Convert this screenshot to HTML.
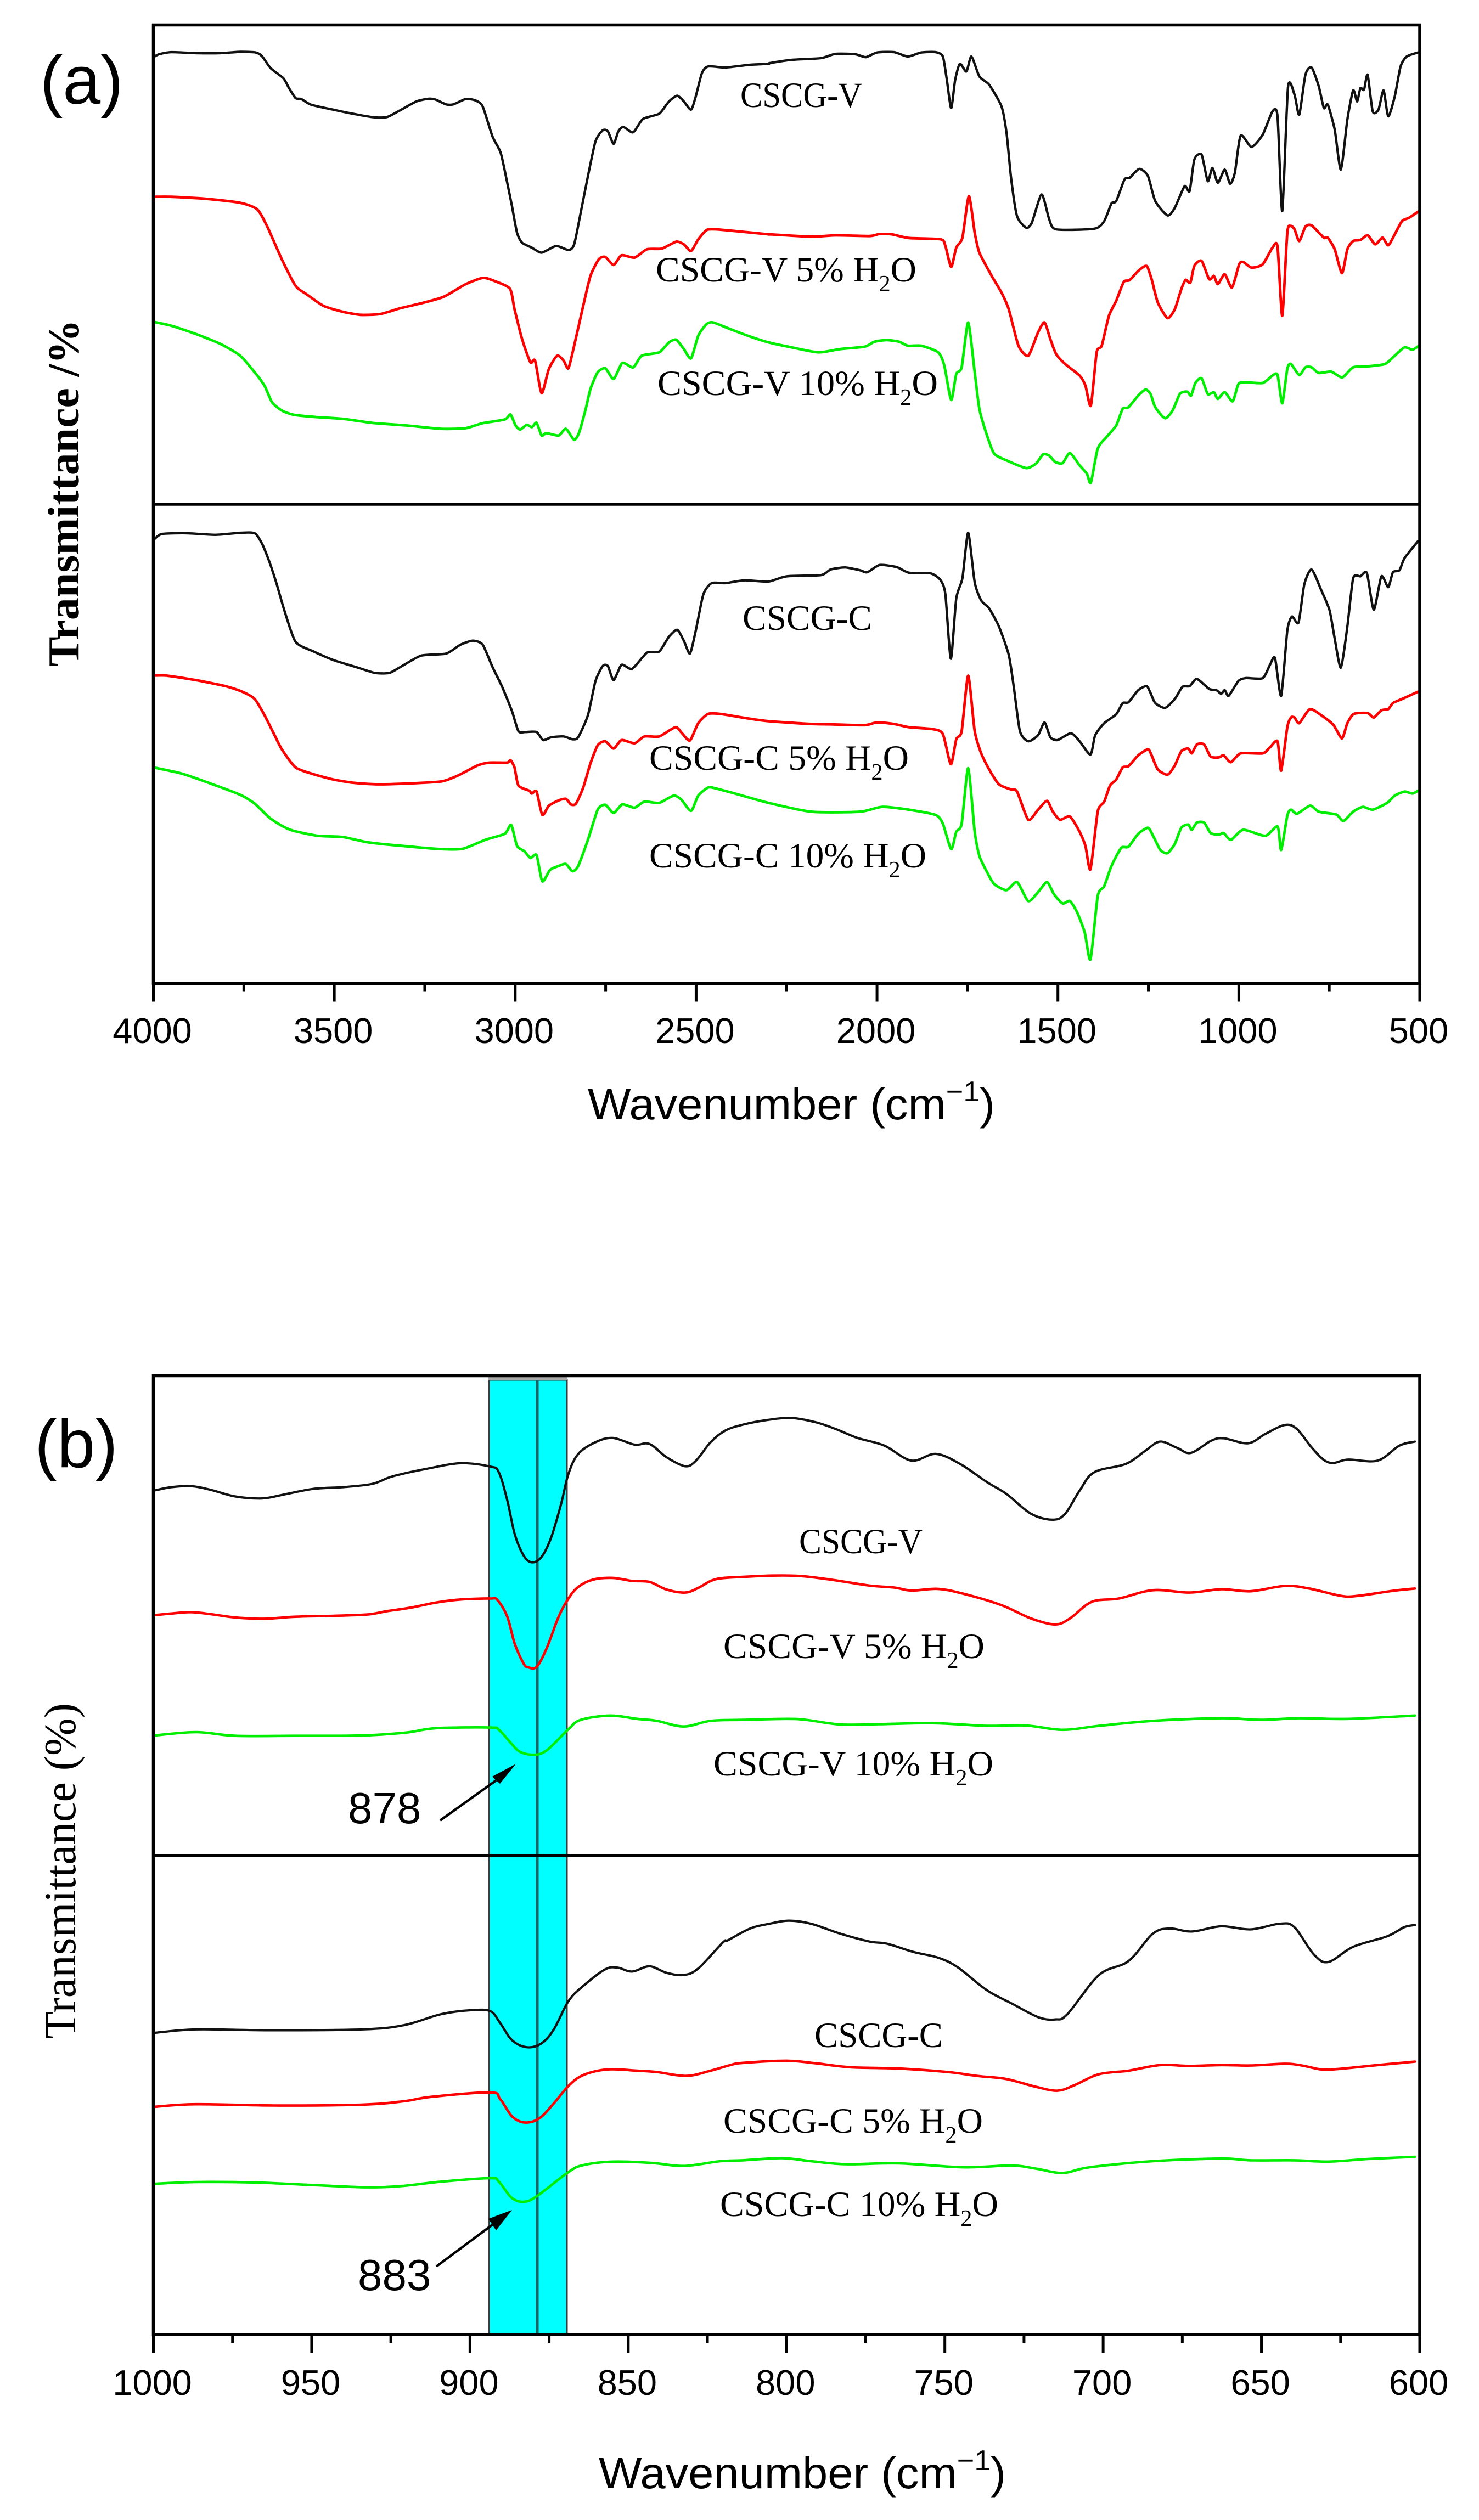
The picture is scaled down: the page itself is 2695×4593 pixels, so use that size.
<!DOCTYPE html>
<html lang="en">
<head>
<meta charset="utf-8">
<title>FTIR spectra of CSCG-V and CSCG-C</title>
<style>
html,body{margin:0;padding:0;background:#fff}
svg{display:block}
.sans{font-family:"Liberation Sans",Arial,sans-serif}
.serif{font-family:"Liberation Serif","Times New Roman",serif}
</style>
</head>
<body>
<svg id="figure" xmlns="http://www.w3.org/2000/svg" width="2695" height="4593" viewBox="0 0 2695 4593">
<rect x="0" y="0" width="2695" height="4593" fill="#fff"/>
<rect x="891" y="2515" width="142" height="1739" fill="#00ffff" stroke="#3c3c3c" stroke-width="3"/>
<rect x="890" y="2510" width="144" height="6" fill="#a8a8a8"/>
<rect x="976" y="2515" width="5.5" height="1739" fill="#0f6a6a"/>
<g id="marks"></g>
<g id="axes"></g>

<text class="sans" x="73" y="189" font-size="124">(a)</text>
<text class="sans" x="63" y="2674" font-size="124">(b)</text>

<text class="serif" font-weight="bold" font-size="81" transform="translate(143 1215) rotate(-90)" textLength="633" lengthAdjust="spacingAndGlyphs">Transmittance /%</text>
<text class="serif" font-size="82" transform="translate(137 3716) rotate(-90)" textLength="612" lengthAdjust="spacingAndGlyphs">Transmittance (%)</text>

<text class="sans" x="1071" y="2040" font-size="80" textLength="742" lengthAdjust="spacingAndGlyphs">Wavenumber (cm<tspan font-size="52" dy="-33">−1</tspan><tspan dy="33">)</tspan></text>
<text class="sans" x="1091" y="4535" font-size="80" textLength="742" lengthAdjust="spacingAndGlyphs">Wavenumber (cm<tspan font-size="52" dy="-33">−1</tspan><tspan dy="33">)</tspan></text>

<text class="serif" x="1349" y="195" font-size="65" textLength="222" lengthAdjust="spacingAndGlyphs">CSCG-V</text>
<text class="serif" x="1195" y="513" font-size="65" textLength="475" lengthAdjust="spacingAndGlyphs">CSCG-V 5% H<tspan font-size="42" dy="18">2</tspan><tspan dy="-18">O</tspan></text>
<text class="serif" x="1198" y="720" font-size="65" textLength="511" lengthAdjust="spacingAndGlyphs">CSCG-V 10% H<tspan font-size="42" dy="18">2</tspan><tspan dy="-18">O</tspan></text>
<text class="serif" x="1353" y="1148" font-size="65" textLength="236" lengthAdjust="spacingAndGlyphs">CSCG-C</text>
<text class="serif" x="1183" y="1403" font-size="65" textLength="473" lengthAdjust="spacingAndGlyphs">CSCG-C 5% H<tspan font-size="42" dy="18">2</tspan><tspan dy="-18">O</tspan></text>
<text class="serif" x="1183" y="1581" font-size="65" textLength="505" lengthAdjust="spacingAndGlyphs">CSCG-C 10% H<tspan font-size="42" dy="18">2</tspan><tspan dy="-18">O</tspan></text>

<text class="serif" x="1456" y="2831" font-size="65" textLength="225" lengthAdjust="spacingAndGlyphs">CSCG-V</text>
<text class="serif" x="1318" y="3022" font-size="65" textLength="476" lengthAdjust="spacingAndGlyphs">CSCG-V 5% H<tspan font-size="42" dy="18">2</tspan><tspan dy="-18">O</tspan></text>
<text class="serif" x="1300" y="3236" font-size="65" textLength="510" lengthAdjust="spacingAndGlyphs">CSCG-V 10% H<tspan font-size="42" dy="18">2</tspan><tspan dy="-18">O</tspan></text>
<text class="serif" x="1484" y="3731" font-size="65" textLength="234" lengthAdjust="spacingAndGlyphs">CSCG-C</text>
<text class="serif" x="1318" y="3887" font-size="65" textLength="473" lengthAdjust="spacingAndGlyphs">CSCG-C 5% H<tspan font-size="42" dy="18">2</tspan><tspan dy="-18">O</tspan></text>
<text class="serif" x="1312" y="4039" font-size="65" textLength="507" lengthAdjust="spacingAndGlyphs">CSCG-C 10% H<tspan font-size="42" dy="18">2</tspan><tspan dy="-18">O</tspan></text>

<text class="sans" x="634" y="3323" font-size="80">878</text>
<text class="sans" x="652" y="4174" font-size="80">883</text>
<line x1="802" y1="3318" x2="904" y2="3245" stroke="#000" stroke-width="4.5"/>
<polygon points="940,3215 897,3238 904,3245 911,3251" fill="#000"/>
<line x1="795" y1="4131" x2="897" y2="4055" stroke="#000" stroke-width="4.5"/>
<polygon points="933,4028 890,4044 897,4055 904,4065" fill="#000"/>
</svg>

<script>
// ---- x axis tick values and labels
const panelATicks = [4000, 3750, 3500, 3250, 3000, 2750, 2500, 2250, 2000, 1750, 1500, 1250, 1000, 750, 500];
const panelATickLabels = ["4000", "", "3500", "", "3000", "", "2500", "", "2000", "", "1500", "", "1000", "", "500"];
const panelBTicks = [1000, 975, 950, 925, 900, 875, 850, 825, 800, 775, 750, 725, 700, 675, 650, 625, 600];
const panelBTickLabels = ["1000", "", "950", "", "900", "", "850", "", "800", "", "750", "", "700", "", "650", "", "600"];

// ---- Panel (a), upper stack: wavenumber (cm-1) and transmittance (a.u.)
const aVWn = [4000,3984,3950,3882,3814,3760,3717,3699,3676,3641,3625,3607,3591,3564,3503,3435,3388,3354,3320,3273,3239,3219,3191,3171,3137,3110,3090,3063,3040,3022,3009,2995,2981,2954,2927,2887,2853,2837,2819,2799,2778,2758,2744,2728,2715,2701,2674,2647,2602,2575,2552,2534,2514,2501,2484,2467,2419,2352,2300,2297,2236,2155,2115,2061,2031,2000,1953,1915,1878,1838,1818,1807,1795,1784,1771,1753,1739,1717,1690,1656,1642,1629,1613,1588,1572,1545,1524,1505,1399,1372,1352,1339,1316,1302,1275,1251,1231,1197,1177,1150,1136,1123,1103,1086,1073,1058,1039,1024,1011,995,965,934,907,893,880,864,846,833,816,799,779,765,754,735,718,700,684,673,664,654,644,630,614,600,587,569,553,536,505];
const aVT = [1396,1405,1411,1408,1408,1412,1410,1398,1363,1333,1303,1273,1270,1253,1238,1223,1215,1216,1235,1263,1271,1268,1254,1254,1270,1266,1248,1158,1108,1018,948,868,838,823,808,828,816,833,928,1038,1143,1176,1173,1135,1173,1186,1170,1210,1226,1263,1280,1263,1238,1278,1348,1368,1365,1373,1376,1378,1388,1393,1406,1405,1396,1410,1411,1398,1410,1411,1398,1328,1243,1328,1376,1353,1398,1338,1313,1248,1168,1028,918,883,898,983,908,878,880,903,956,963,1028,1033,1060,1038,963,920,943,1008,993,1088,1103,1023,1063,1018,1058,1015,1048,1160,1126,1163,1233,1218,933,1306,1283,1223,1343,1365,1308,1243,1253,1178,1058,1208,1296,1263,1303,1298,1343,1233,1238,1296,1218,1278,1368,1398,1410];

const aV5Wn = [4000,3950,3855,3760,3713,3686,3645,3607,3577,3530,3476,3428,3374,3320,3259,3198,3137,3090,3063,3015,3002,2981,2958,2945,2927,2907,2884,2866,2853,2837,2812,2792,2769,2751,2728,2706,2670,2636,2595,2555,2534,2514,2494,2471,2446,2392,2300,2297,2182,2115,2020,1993,1959,1912,1824,1811,1795,1781,1764,1746,1730,1717,1683,1656,1636,1609,1582,1555,1537,1521,1505,1480,1440,1424,1409,1393,1379,1359,1339,1318,1302,1278,1255,1241,1224,1197,1177,1159,1147,1134,1123,1103,1082,1069,1058,1039,1019,999,988,965,934,907,893,880,866,856,846,833,816,799,765,754,735,715,700,684,664,644,623,603,587,569,549,529,502];
const aV5T = [976,976,970,958,938,888,788,708,683,648,630,621,623,640,656,675,713,732,725,700,638,548,478,483,385,458,498,483,460,528,648,738,788,795,771,800,793,818,820,841,833,813,848,876,878,873,863,863,856,860,858,864,863,852,848,828,765,823,853,978,868,808,738,688,638,528,498,568,598,548,503,473,438,408,348,508,528,618,663,720,725,753,768,728,658,611,638,698,726,718,768,783,728,738,713,743,703,773,780,763,773,823,826,618,868,888,878,843,886,890,853,853,818,746,818,843,846,860,833,853,830,863,903,913,933];

const aV10Wn = [4000,3950,3882,3814,3760,3720,3693,3672,3645,3611,3544,3476,3395,3300,3205,3137,3090,3029,3013,2999,2986,2968,2954,2941,2927,2914,2880,2860,2837,2823,2805,2792,2772,2751,2728,2704,2674,2650,2602,2575,2555,2534,2514,2494,2471,2453,2406,2352,2300,2236,2162,2101,2034,2007,1973,1939,1915,1878,1831,1814,1795,1781,1766,1748,1730,1717,1696,1676,1642,1588,1561,1541,1525,1507,1487,1467,1440,1420,1409,1390,1366,1339,1321,1305,1278,1258,1244,1231,1204,1183,1163,1143,1132,1120,1103,1086,1069,1058,1039,1017,1001,981,934,907,893,880,866,856,833,816,799,779,745,714,684,644,596,569,542,520,502];
const aV10T = [600,588,563,533,498,448,408,358,333,320,313,308,296,288,278,280,295,306,321,288,276,290,283,296,258,265,258,278,245,268,338,398,448,460,428,476,463,498,508,538,546,518,490,558,593,598,578,556,538,523,508,518,525,540,545,540,528,528,508,468,365,443,463,598,448,338,258,203,183,160,173,201,198,178,175,205,168,143,116,218,253,288,338,343,378,396,383,343,310,333,383,390,378,416,430,383,388,368,388,361,413,418,416,438,440,355,458,473,440,463,463,446,450,433,463,466,473,498,523,516,528];

// ---- Panel (a), lower stack
const aCWn = [4000,3977,3909,3828,3760,3720,3699,3679,3659,3638,3607,3557,3503,3435,3388,3347,3307,3259,3191,3151,3117,3090,3063,3036,3009,2991,2972,2941,2923,2900,2866,2842,2826,2799,2778,2758,2744,2728,2706,2677,2636,2602,2575,2552,2534,2517,2501,2480,2457,2419,2365,2300,2250,2155,2128,2088,2047,2027,1993,1946,1912,1851,1824,1811,1796,1781,1764,1748,1730,1712,1690,1663,1636,1622,1605,1582,1555,1537,1521,1501,1464,1440,1410,1397,1372,1339,1321,1305,1278,1255,1244,1231,1204,1177,1156,1136,1116,1082,1062,1049,1039,1028,1001,981,934,914,900,883,866,853,835,819,799,772,749,735,718,700,684,664,646,627,606,587,574,556,542,505];
const aCT = [1453,1468,1470,1466,1471,1470,1443,1398,1343,1278,1200,1176,1155,1136,1123,1123,1143,1166,1171,1193,1203,1193,1138,1088,1028,978,976,976,956,963,965,958,963,1018,1103,1140,1140,1105,1143,1133,1173,1176,1213,1230,1203,1171,1228,1318,1346,1346,1353,1350,1363,1366,1380,1385,1378,1373,1391,1386,1372,1370,1353,1318,1158,1308,1358,1471,1348,1303,1283,1238,1168,1088,978,953,968,1000,963,956,973,953,920,968,998,1020,1048,1050,1080,1090,1073,1048,1036,1058,1088,1090,1108,1083,1080,1071,1080,1066,1103,1110,1110,1143,1160,1066,1228,1263,1248,1343,1380,1328,1278,1208,1136,1238,1358,1363,1371,1280,1363,1336,1373,1378,1408,1450];

const aC5Wn = [4000,3963,3882,3801,3754,3720,3693,3665,3645,3607,3557,3503,3449,3381,3300,3205,3158,3104,3070,3022,3013,3002,2991,2961,2954,2941,2925,2907,2880,2860,2846,2832,2812,2792,2772,2751,2728,2706,2670,2643,2602,2557,2539,2517,2494,2467,2433,2365,2300,2182,2128,2034,2000,1953,1912,1845,1818,1796,1781,1766,1748,1730,1712,1690,1663,1629,1613,1582,1555,1530,1514,1494,1467,1440,1424,1410,1390,1372,1356,1339,1321,1305,1278,1251,1241,1224,1197,1177,1159,1140,1130,1116,1096,1078,1055,1042,1022,995,934,914,893,883,866,856,846,833,803,765,738,715,700,682,644,627,606,587,574,549,505];
const aC5T = [1116,1116,1105,1090,1076,1058,1018,968,933,888,871,858,850,846,848,853,868,893,900,900,906,888,843,830,823,828,770,793,806,810,796,798,838,898,943,953,935,956,948,965,965,988,973,955,998,1021,1021,1011,1003,996,995,993,1000,996,988,983,971,896,958,978,1116,978,923,883,846,833,828,758,783,805,778,758,766,728,693,635,778,803,843,858,888,891,918,933,918,883,870,893,928,935,923,945,945,915,913,918,901,923,923,938,953,880,988,1012,1012,998,1033,1013,993,960,998,1021,1023,1012,1030,1033,1048,1058,1076];

const aC10Wn = [4000,3923,3842,3760,3720,3679,3645,3611,3544,3476,3408,3313,3205,3144,3083,3029,3011,2995,2975,2958,2941,2925,2904,2880,2860,2842,2826,2799,2772,2751,2728,2704,2670,2643,2602,2562,2541,2514,2494,2467,2446,2392,2300,2182,2047,1986,1912,1838,1818,1795,1781,1766,1748,1730,1717,1696,1676,1642,1613,1582,1555,1530,1511,1487,1467,1447,1426,1410,1390,1372,1352,1325,1305,1278,1251,1237,1217,1197,1177,1159,1140,1130,1116,1096,1078,1055,1042,1022,988,927,893,883,866,856,839,803,779,731,711,684,657,630,590,569,542,520,505];
const aC10T = [888,873,848,820,798,763,743,730,718,715,702,693,685,686,708,723,745,693,680,663,670,605,633,643,648,630,643,708,783,795,775,796,788,803,800,818,808,780,818,838,836,823,800,778,778,790,783,770,748,685,728,748,886,728,668,628,598,583,603,556,578,603,573,550,556,528,478,411,568,593,643,688,691,723,738,718,683,675,698,738,746,733,751,751,725,721,725,708,733,718,741,683,768,783,773,793,778,771,755,778,790,783,800,818,828,823,830];

// ---- Panel (b), upper stack
const bVWn = [999.7,994.3,988.1,981.9,974.1,965.6,958.7,949.4,940.1,930.8,924.6,913.8,903,893.6,890.9,888.2,885.9,883.1,880.5,877.4,874.3,871.2,868.9,865.8,860.4,854.9,848,843.3,837.9,832,828.6,824,819.4,813.8,806.1,798.4,790.7,784.5,777.6,769.1,760.6,752.9,745.2,736.7,730.6,722.8,715.9,712,707.4,702.8,692.8,686.6,682,676.6,672.3,665.8,661.9,654.2,648.8,642.6,638.8,634.2,630.3,627.2,622.6,613.3,606.4,601.5];
const bVT = [1128,1138,1141,1130,1110,1104,1116,1133,1138,1148,1170,1193,1210,1200,1183,1098,998,933,912,928,988,1088,1178,1238,1273,1286,1266,1268,1228,1201,1218,1273,1308,1326,1340,1346,1333,1313,1286,1263,1218,1238,1208,1153,1118,1058,1040,1058,1128,1183,1208,1248,1275,1256,1241,1278,1285,1270,1298,1325,1313,1258,1220,1211,1221,1218,1263,1275];

const bV5Wn = [999.7,994.3,988.1,981.9,974.1,964.9,955.6,943.2,932.4,926.2,918.4,910.7,903,893.6,891.3,888.2,885.9,883.1,881.6,878.9,875.8,872,868.9,865.8,861.1,854.9,848.8,843.3,837.9,832,827.9,822.4,813.8,804.6,796.1,786.1,773.8,766,760.6,752.2,744.4,732.1,722.8,715.2,710.5,703.6,695.1,684.3,672.7,662.7,653.4,642.6,634.9,624.9,619.5,608.7,601.5];
const bV5T = [753,758,762,756,746,742,748,751,755,765,776,791,800,803,798,748,668,608,596,598,653,748,803,838,860,865,856,853,830,821,835,861,868,872,871,860,842,836,827,832,818,783,743,725,743,793,803,828,821,831,825,841,833,811,811,826,833];

const bV10Wn = [999.7,986.5,974.1,955.6,933.9,920,910.7,893.6,890.9,887.5,884.4,880,875.8,868.9,865,855.7,847.2,841,832.5,824,813.8,800,793.8,783,770.7,753.7,736.7,724.4,712.8,701.3,684.3,662.7,650.4,638,622.6,601.5];
const bV10T = [391,401,390,390,391,400,413,415,408,373,343,333,346,410,438,451,441,435,418,435,438,441,438,424,425,428,420,421,408,420,435,443,438,443,441,451];

// ---- Panel (b), lower stack
const bCWn = [999.7,986.5,963.3,933.9,920.7,909.1,899.8,893.6,890.5,886.7,882,877.4,873.5,868.9,864.2,857.3,853.4,848.8,843.3,837.9,832.5,827.9,820.1,818.5,811.5,805.4,799.2,792.3,783,773.8,768.3,759.9,752.2,746,736.7,729,720.5,715.1,711.3,701.3,692,684.3,678.9,672,662.7,653.4,644.2,639.6,633.4,628.8,621,610.3,604.9,601.5];
const bCT = [1120,1128,1126,1128,1138,1163,1172,1170,1143,1103,1087,1096,1128,1193,1228,1266,1270,1261,1273,1258,1253,1268,1328,1333,1360,1371,1378,1371,1348,1330,1325,1306,1293,1271,1218,1188,1156,1151,1163,1253,1285,1348,1360,1353,1365,1358,1371,1363,1300,1283,1318,1342,1363,1368];

const bC5Wn = [999.7,986.5,961.8,933.9,920.7,912.2,893.6,890.5,886.7,882.8,878.2,873.5,868.9,864.2,856.5,847.2,841,831.7,824,817.8,813.8,800,790.7,779.9,764.5,749.1,739.8,730.6,721.3,714.4,709,701.3,692,682,672.7,662.7,653.4,642.6,637.2,631.1,625.7,613.3,601.5];
const bC5T = [950,956,953,955,963,973,983,968,928,914,923,958,998,1023,1036,1033,1030,1021,1033,1046,1051,1056,1050,1041,1038,1030,1021,1014,996,987,1000,1025,1033,1046,1044,1046,1045,1049,1045,1036,1037,1046,1054];

const bC10Wn = [999.7,986.5,967.9,949.4,932.4,921.5,909.1,893.6,890.9,886.7,882.5,878.2,868.9,864.2,854.9,842.6,832.5,820.9,813.8,801.5,792.3,781.5,764.5,744.4,729,721.3,712.8,704.3,684.3,662.7,653.4,639.6,628.8,616.4,601.5];
const bC10T = [773,777,776,770,765,768,778,786,778,740,732,748,800,816,824,821,814,825,827,832,825,818,820,811,815,808,798,811,825,831,827,827,824,830,835];

// ---- axis functions
const plotLeft = 279.5, plotRight = 2587;
function xA(wn) { return plotLeft + (4000 - wn) / 3500 * (plotRight - plotLeft); }
function xB(wn) { return plotLeft + (1000 - wn) / 400 * (plotRight - plotLeft); }
function stackY(offset, span) { return function (t) { return offset + (1568 - t) * span / 1568; }; }
const yAUpper = stackY(0, 950), yALower = stackY(900, 1150);
const yBUpper = stackY(2450, 950), yBLower = stackY(3350, 1243);

const SVGNS = "http://www.w3.org/2000/svg";
const marks = document.getElementById("marks");
const axes = document.getElementById("axes");

function pathFor(xs, ys, fx, fy, divisor) {
  const n = Math.min(xs.length, ys.length);
  const p = [];
  for (let i = 0; i < n; i++) p.push([fx(xs[i]), fy(ys[i])]);
  let d = "M" + p[0][0].toFixed(1) + " " + p[0][1].toFixed(1);
  for (let i = 1; i < n; i++) {
    const a = p[Math.max(i - 2, 0)], b = p[i - 1], c = p[i], e = p[Math.min(i + 1, n - 1)];
    const c1x = b[0] + (c[0] - a[0]) / divisor, c1y = b[1] + (c[1] - a[1]) / divisor;
    const c2x = c[0] - (e[0] - b[0]) / divisor, c2y = c[1] - (e[1] - b[1]) / divisor;
    d += "C" + c1x.toFixed(1) + " " + c1y.toFixed(1) + " " + c2x.toFixed(1) + " " + c2y.toFixed(1) + " " + c[0].toFixed(1) + " " + c[1].toFixed(1);
  }
  return d;
}

function drawSeries(name, xs, ys, fx, fy, color, width, divisor) {
  const el = document.createElementNS(SVGNS, "path");
  el.setAttribute("d", pathFor(xs, ys, fx, fy, divisor));
  el.setAttribute("fill", "none");
  el.setAttribute("stroke", color);
  el.setAttribute("stroke-width", width);
  el.setAttribute("stroke-linejoin", "round");
  el.setAttribute("stroke-linecap", "round");
  
  
  marks.appendChild(el);
}

const BLACK = "#111111", RED = "#ff0000", GREEN = "#00ee00";
drawSeries("series-a-cscg-v", aVWn, aVT, xA, yAUpper, BLACK, 4.4, 9);
drawSeries("series-a-cscg-v-5-h2o", aV5Wn, aV5T, xA, yAUpper, RED, 4.8, 9);
drawSeries("series-a-cscg-v-10-h2o", aV10Wn, aV10T, xA, yAUpper, GREEN, 4.8, 9);
drawSeries("series-a-cscg-c", aCWn, aCT, xA, yALower, BLACK, 4.4, 9);
drawSeries("series-a-cscg-c-5-h2o", aC5Wn, aC5T, xA, yALower, RED, 4.8, 9);
drawSeries("series-a-cscg-c-10-h2o", aC10Wn, aC10T, xA, yALower, GREEN, 4.8, 9);
drawSeries("series-b-cscg-v", bVWn, bVT, xB, yBUpper, BLACK, 4.2, 6);
drawSeries("series-b-cscg-v-5-h2o", bV5Wn, bV5T, xB, yBUpper, RED, 4.6, 6);
drawSeries("series-b-cscg-v-10-h2o", bV10Wn, bV10T, xB, yBUpper, GREEN, 4.6, 6);
drawSeries("series-b-cscg-c", bCWn, bCT, xB, yBLower, BLACK, 4.2, 6);
drawSeries("series-b-cscg-c-5-h2o", bC5Wn, bC5T, xB, yBLower, RED, 4.6, 6);
drawSeries("series-b-cscg-c-10-h2o", bC10Wn, bC10T, xB, yBLower, GREEN, 4.6, 6);

function drawFrame(name, top, mid, bottom) {
  const box = document.createElementNS(SVGNS, "rect");
  box.setAttribute("x", plotLeft);
  box.setAttribute("y", top);
  box.setAttribute("width", plotRight - plotLeft);
  box.setAttribute("height", bottom - top);
  box.setAttribute("fill", "none");
  box.setAttribute("stroke", "#000");
  box.setAttribute("stroke-width", "5.5");
  
  
  axes.appendChild(box);
  const divider = document.createElementNS(SVGNS, "line");
  divider.setAttribute("x1", plotLeft);
  divider.setAttribute("x2", plotRight);
  divider.setAttribute("y1", mid);
  divider.setAttribute("y2", mid);
  divider.setAttribute("stroke", "#000");
  divider.setAttribute("stroke-width", "5.5");
  
  
  axes.appendChild(divider);
}

function drawTicks(name, ticks, labels, fx, axisY, baseline) {
  ticks.forEach(function (t, i) {
    const isMajor = labels[i] !== "";
    const tick = document.createElementNS(SVGNS, "line");
    tick.setAttribute("x1", fx(t));
    tick.setAttribute("x2", fx(t));
    tick.setAttribute("y1", axisY);
    tick.setAttribute("y2", axisY + (isMajor ? 33 : 15));
    tick.setAttribute("stroke", "#000");
    tick.setAttribute("stroke-width", "5");
    
    
    axes.appendChild(tick);
    if (isMajor) {
      const label = document.createElementNS(SVGNS, "text");
      label.setAttribute("x", fx(t) - 2);
      label.setAttribute("y", baseline);
      label.setAttribute("text-anchor", "middle");
      label.setAttribute("font-size", "65");
      label.setAttribute("class", "sans");
      label.textContent = labels[i];
      
      
      axes.appendChild(label);
    }
  });
}

drawFrame("panel-a", 45.5, 919, 1792.5);
drawFrame("panel-b", 2507.5, 3382, 4255);
drawTicks("panel-a-x", panelATicks, panelATickLabels, xA, 1792.5, 1901);
drawTicks("panel-b-x", panelBTicks, panelBTickLabels, xB, 4255, 4365);
</script>
</body>
</html>
